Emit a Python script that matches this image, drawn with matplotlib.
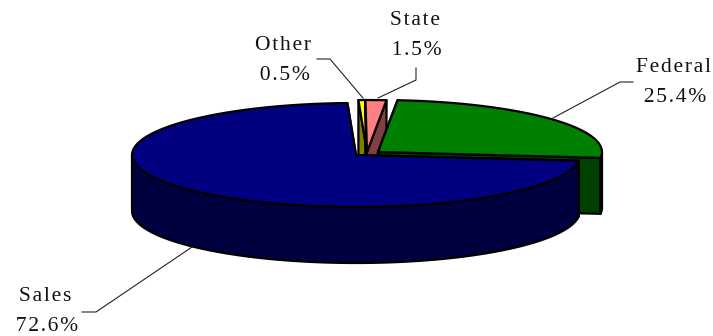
import numpy as np
import matplotlib
matplotlib.use("Agg")
import matplotlib.pyplot as plt
from matplotlib.patches import Polygon

# Revenue shares, percent, in clockwise order from the top of the pie
labels = ["Federal", "Sales", "Other", "State"]
shares = [25.4, 72.6, 0.5, 1.5]
faces = ["#008000", "#000080", "#FFFF00", "#FF8080"]
walls = ["#004000", "#000040", "#808000", "#804040"]
# Displaced wedge apex of each slice, in canvas pixels
apexes = [(378, 152), (356, 155), (367, 152), (367, 152)]

START_ANGLE = 5.0   # clockwise from 12 o'clock, where Federal begins
RX, RY, DEPTH = 224, 52, 56
HAIR = "\u200a"     # widens the label tracking

fig = plt.figure(figsize=(7.13, 3.36), dpi=100)
ax = fig.add_axes([0, 0, 1, 1])
ax.set_xlim(0, 713)
ax.set_ylim(336, 0)
ax.axis("off")


def rim(apex, a0, a1):
    t = np.radians(np.linspace(a0, a1, max(int(abs(a1 - a0) / 3), 2)))
    return np.column_stack([apex[0] + RX * np.sin(t), apex[1] - RY * np.cos(t)])


def patch(points, color, z):
    ax.add_patch(Polygon(points, closed=True, facecolor=color, edgecolor="black",
                         linewidth=1.6, joinstyle="round", zorder=z))


def draw_slice(apex, a0, a1, face, wall, z):
    pts = rim(apex, a0, a1)
    drop = np.array([0, DEPTH])
    centre = np.array(apex, dtype=float)
    # radial cut faces on both sides of the wedge
    patch([centre, pts[0], pts[0] + drop, centre + drop], wall, z)
    patch([centre, pts[-1], pts[-1] + drop, centre + drop], wall, z)
    # outer wall, only the stretch facing the viewer
    facing = np.cos(np.radians(np.linspace(a0, a1, len(pts)))) < 0
    if facing.any():
        front = pts[facing]
        patch(np.vstack([front, (front + drop)[::-1]]), wall, z + 0.1)
    patch(np.vstack([centre, pts]), face, z + 0.2)


edges = START_ANGLE + np.cumsum([0] + shares) * 3.6
for z, i in enumerate([2, 3, 0, 1]):
    draw_slice(apexes[i], edges[i], edges[i + 1], faces[i], walls[i], 2 + z)

# Elbowed leader lines and two-line labels
leaders = {
    "Other": [(363, 98), (330, 59), (317, 59)],
    "State": [(378, 98), (416, 80), (416, 68)],
    "Federal": [(553, 118), (620, 82), (633, 82)],
    "Sales": [(192, 247), (96, 312), (82, 312)],
}
anchors = {"Other": (284, 80), "State": (416, 55), "Federal": (674, 102), "Sales": (46, 331)}
for name, share in zip(labels, shares):
    xs, ys = zip(*leaders[name])
    ax.plot(xs, ys, color="#222222", lw=0.8, zorder=10)
    text = f"{name}\n{share:.1f}%"
    ax.text(*anchors[name], HAIR.join(text), ha="center", va="baseline",
            family="Liberation Serif", fontsize=15.5, linespacing=1.78,
            color="#111111", zorder=11)

fig.savefig("out.png", dpi=100)
